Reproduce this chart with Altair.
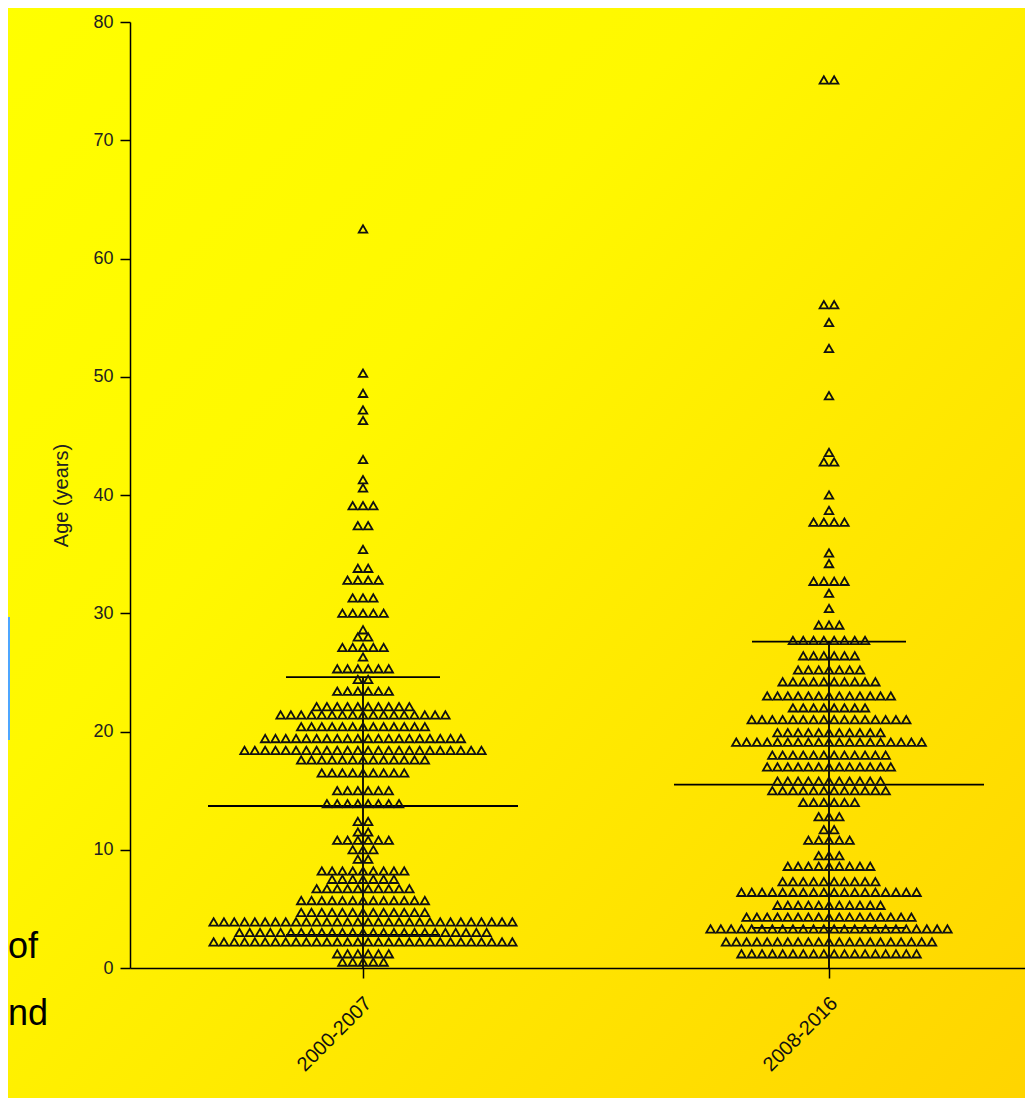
import altair as alt
import pandas as pd

# ---------------- data ----------------
groups = ["2000-2007", "2008-2016"]

# ages of each swarm row and number of triangles in that row
g1_ages = [62.5, 50.3, 48.6, 47.2, 46.3, 43.0, 41.3, 40.6, 39.1, 37.4, 35.4, 33.8,
           32.8, 31.3, 30.0, 28.6, 28.0, 27.1, 26.3, 25.3, 24.4, 23.4, 22.1, 21.4,
           20.4, 19.4, 18.4, 17.6, 16.5, 15.0, 13.9, 12.4, 11.5, 10.8, 10.0, 9.2,
           8.2, 7.5, 6.7, 5.7, 4.7, 3.9, 3.0, 2.2, 1.2, 0.5]
g1_counts = [1, 1, 1, 1, 1, 1, 1, 1, 3, 2, 1, 2,
             4, 3, 5, 1, 2, 5, 1, 6, 2, 6, 10, 17,
             13, 20, 24, 13, 9, 6, 8, 2, 2, 6, 3, 2,
             9, 7, 10, 13, 13, 30, 25, 30, 6, 5]

g2_ages = [75.1, 56.1, 54.6, 52.4, 48.4, 43.6, 42.8, 40.0, 38.7, 37.7, 35.1, 34.2,
           32.7, 31.7, 30.4, 29.0, 27.7, 26.4, 25.2, 24.2, 23.0, 22.0, 21.0, 19.9,
           19.1, 18.0, 17.0, 15.8, 15.0, 14.0, 12.8, 11.7, 10.8, 9.5, 8.6, 7.3,
           6.4, 5.3, 4.3, 3.3, 2.2, 1.2]
g2_counts = [2, 2, 1, 1, 1, 1, 2, 1, 1, 4, 1, 1,
             4, 1, 1, 3, 8, 6, 7, 10, 13, 8, 16, 11,
             19, 12, 13, 11, 12, 6, 3, 2, 5, 3, 9, 10,
             18, 11, 17, 24, 21, 18]

means = [13.7, 15.5]
sds = [10.9, 12.1]

y_ticks = [0, 10, 20, 30, 40, 50, 60, 70, 80]
side_text = ["of", "nd"]

# ---------------- layout constants ----------------
W, H = 895, 946
PX_PER_UNIT = 466.0
X_DOMAIN = [-233 / PX_PER_UNIT, (W - 233) / PX_PER_UNIT]
STEP = 10.3 / PX_PER_UNIT
MEAN_HALF = 155 / PX_PER_UNIT
CAP_HALF = 77 / PX_PER_UNIT

recs = []
for gi, (ages, counts) in enumerate(((g1_ages, g1_counts), (g2_ages, g2_counts))):
    for a, c in zip(ages, counts):
        recs.extend({"g": gi, "age": a} for _ in range(c))
pts = pd.DataFrame(recs)
stats = pd.DataFrame({"g": list(range(len(groups))), "mean": means, "sd": sds})

label_expr = "[" + ",".join(f"'{g}'" for g in groups) + "][datum.value]"

x_axis = alt.Axis(values=[0, 1], labelExpr=label_expr, labelAngle=-45,
                  labelFontSize=20, labelColor="#111", labelPadding=22, labelOffset=5,
                  labelAlign="right", labelBaseline="middle",
                  tickSize=10, tickWidth=1.5, tickColor="#000",
                  domainColor="#000", domainWidth=1.5, grid=False, title="",
                  zindex=2)
y_axis = alt.Axis(values=y_ticks, labelFontSize=18, labelColor="#222", labelPadding=7,
                  tickSize=10, tickWidth=1.5, tickColor="#000",
                  domainColor="#000", domainWidth=1.5, grid=False,
                  title="Age (years)", titleFontSize=20, titleFontWeight="normal",
                  titleColor="#222", titlePadding=21, zindex=2)


def X(field):
    return alt.X(f"{field}:Q", scale=alt.Scale(domain=X_DOMAIN, nice=False, zero=False), axis=x_axis)


def Y(field):
    return alt.Y(f"{field}:Q", scale=alt.Scale(domain=[0, 80], nice=False), axis=y_axis)


one = pd.DataFrame({"k": [0]})

gradient = alt.LinearGradient(
    gradient="linear",
    stops=[alt.GradientStop(color="#FFFF00", offset=0),
           alt.GradientStop(color="#FFF800", offset=0.35),
           alt.GradientStop(color="#FFD300", offset=1)],
    x1=0, y1=0, x2=1, y2=1)

bg = alt.Chart(one).mark_rect(fill=gradient).encode(
    x=alt.value(-140), x2=alt.value(W + 20), y=alt.value(-30), y2=alt.value(H + 170))

blue = alt.Chart(one).mark_rect(color="#4DA6FF").encode(
    x=alt.value(-140), x2=alt.value(-120), y=alt.value(595), y2=alt.value(718))

t1 = alt.Chart(one).mark_text(text=side_text[0], fontSize=36, align="left",
                              baseline="alphabetic", color="#000").encode(
    x=alt.value(-122), y=alt.value(936))
t2 = alt.Chart(one).mark_text(text=side_text[1], fontSize=36, align="left",
                              baseline="alphabetic", color="#000").encode(
    x=alt.value(-122), y=alt.value(1003))

base = alt.Chart(stats).transform_calculate(
    up="datum.mean + datum.sd",
    lo="datum.mean - datum.sd",
    bottom="0",
    ma=f"datum.g - {MEAN_HALF}",
    mb=f"datum.g + {MEAN_HALF}",
    ca=f"datum.g - {CAP_HALF}",
    cb=f"datum.g + {CAP_HALF}",
)
rule_style = dict(color="#000", strokeWidth=1.8)
mean_rule = base.mark_rule(**rule_style).encode(x=X("ma"), x2=alt.X2("mb:Q"), y=Y("mean"))
cap_up = base.mark_rule(**rule_style).encode(x=X("ca"), x2=alt.X2("cb:Q"), y=Y("up"))
cap_lo = base.mark_rule(**rule_style).encode(x=X("ca"), x2=alt.X2("cb:Q"), y=Y("lo"))
vert = base.mark_rule(**rule_style).encode(x=X("g"), y=Y("bottom"), y2=alt.Y2("up:Q"))

points = alt.Chart(pts).transform_window(
    rn="row_number()", groupby=["g", "age"]
).transform_joinaggregate(
    n="count()", groupby=["g", "age"]
).transform_calculate(
    xpos=f"datum.g + (datum.rn - 1 - (datum.n - 1) / 2) * {STEP}"
).mark_point(shape="triangle-up", filled=False, stroke="#111", strokeWidth=1.8,
             size=72, opacity=1).encode(x=X("xpos"), y=Y("age"))

chart = alt.layer(bg, blue, t1, t2, mean_rule, cap_up, cap_lo, vert, points).properties(
    width=W, height=H,
    autosize=alt.AutoSizeParams(type="none"),
    padding={"left": 122, "top": 14, "right": 0, "bottom": 130},
).configure(background="#FFEE00", font="Liberation Sans").configure_view(stroke="transparent")

chart.save("out.html", embed_options={"renderer": "svg", "actions": False})
